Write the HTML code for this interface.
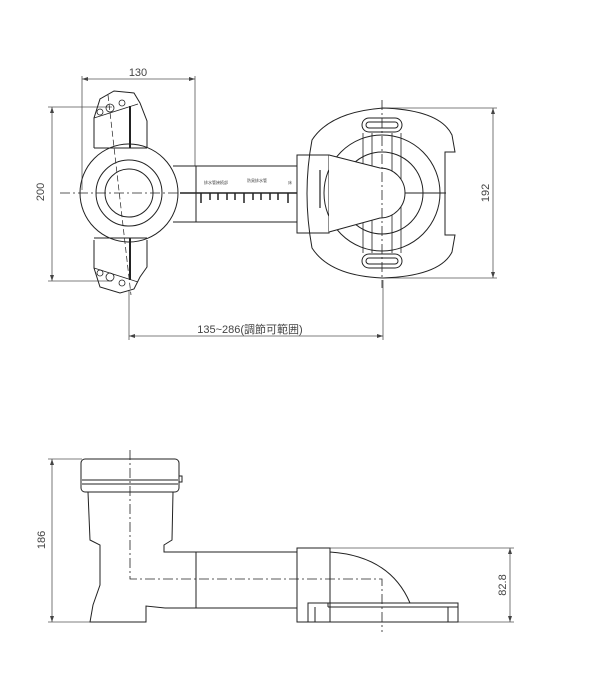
<!DOCTYPE html>
<html><head><style>body{margin:0;background:#fff}svg{display:block}text{font-family:"Liberation Sans","Noto Sans CJK JP",sans-serif;fill:#444;stroke:none}</style></head><body>
<svg width="600" height="700" viewBox="0 0 600 700" fill="none" stroke="#222" stroke-width="1">
<g stroke="#555" stroke-width="0.8">
<line x1="82" y1="79" x2="195" y2="79"/><line x1="82" y1="76" x2="82" y2="190"/><line x1="195" y1="76" x2="195" y2="166"/>
<line x1="52" y1="107" x2="52" y2="281"/><line x1="48" y1="107" x2="112" y2="107"/><line x1="48" y1="281" x2="112" y2="281"/>
<line x1="129" y1="336" x2="383" y2="336"/><line x1="129" y1="290" x2="129" y2="340"/><line x1="383" y1="280" x2="383" y2="340"/>
<line x1="383" y1="108" x2="497" y2="108"/><line x1="383" y1="278" x2="497" y2="278"/><line x1="493" y1="108" x2="493" y2="278"/>
</g>
<g fill="#444" stroke="none">
<path d="M82 79l6-2v4zM195 79l-6-2v4zM52 107l-2 6h4zM52 281l-2-6h4zM129 336l6-2v4zM383 336l-6-2v4zM493 108l-2 6h4zM493 278l-2-6h4z"/>
</g>
<text x="138" y="76" font-size="11" text-anchor="middle">130</text>
<text transform="translate(44,192) rotate(-90)" font-size="11" text-anchor="middle">200</text>
<text x="250" y="333" font-size="11" text-anchor="middle">135~286(調節可範囲)</text>
<text transform="translate(489,193) rotate(-90)" font-size="11" text-anchor="middle">192</text>
<!-- bracket -->
<path d="M94 148V118l6-19 14-8 20 2 6 10 7 18v27M94 240v28l6 19 20 6 14-4 6-12 7-10v-27"/>
<line x1="94" y1="148" x2="147" y2="148"/><line x1="94" y1="238" x2="147" y2="238"/>
<path d="M94 118l44-14M94 268l44 14" stroke-width="0.8"/>
<line x1="130" y1="106" x2="130" y2="148" stroke-width="2"/><line x1="130" y1="238" x2="130" y2="280" stroke-width="2"/>
<g stroke-width="0.8"><circle cx="110" cy="108" r="4"/><circle cx="122" cy="103" r="3"/><circle cx="100" cy="112" r="3"/><circle cx="110" cy="277" r="4"/><circle cx="122" cy="283" r="3"/><circle cx="100" cy="273" r="3"/></g>
<line x1="108" y1="95" x2="131" y2="295" stroke-dasharray="6,3" stroke-width="0.7"/>
<circle cx="129" cy="193" r="49"/><circle cx="129" cy="193" r="33"/><circle cx="129" cy="193" r="24"/>
<path d="M173 166H297M173 222H297M196 166V222"/>
<line x1="60" y1="193" x2="180" y2="193" stroke-dasharray="10,3,2,3" stroke-width="0.7"/>
<line x1="180" y1="193" x2="297" y2="193" stroke-width="1.6"/>
<g stroke-width="1.5"><path d="M201 193v10M210 193v7M218 193v7M227 193v7M235 193v7M244 193v10M253 193v7M261 193v7M270 193v7M278 193v7M288 193v10"/></g>
<g font-size="4"><text x="204" y="184">排水管接続部</text><text x="247" y="182">防臭排水管</text><text x="288" y="184">床</text></g>
<rect x="297" y="155" width="32" height="78"/>
<line x1="320" y1="170" x2="320" y2="208" stroke-width="1.2"/>
<path d="M312 140Q330 112 383 108Q440 110 452 135L455 152H445V235H455L452 252Q440 276 383 278Q330 276 312 248Q302 193 312 140Z"/>
<circle cx="382" cy="193" r="58"/><circle cx="382" cy="193" r="41"/>
<path d="M363 133V253M372 133V253M392 133V253M401 133V253" stroke-width="0.8"/>
<rect x="362" y="118" width="40" height="14" rx="7"/><rect x="366" y="122" width="32" height="6" rx="3"/>
<rect x="362" y="254" width="40" height="14" rx="7"/><rect x="366" y="258" width="32" height="6" rx="3"/>
<path d="M329 155L380 168A25 25 0 0 1 380 218L329 232" fill="#fff"/>
<line x1="405" y1="193" x2="446" y2="193"/>
<line x1="382" y1="100" x2="382" y2="288" stroke-dasharray="10,3,2,3" stroke-width="0.8"/>
<!-- SIDE VIEW -->
<g stroke="#555" stroke-width="0.8">
<line x1="52" y1="459" x2="52" y2="622"/><line x1="48" y1="459" x2="82" y2="459"/><line x1="48" y1="622" x2="90" y2="622"/>
<line x1="510" y1="548" x2="510" y2="622"/><line x1="330" y1="548" x2="514" y2="548"/><line x1="458" y1="622" x2="514" y2="622"/>
</g>
<g fill="#444" stroke="none"><path d="M52 459l-2 6h4zM52 622l-2-6h4zM510 548l-2 6h4zM510 622l-2-6h4z"/></g>
<text transform="translate(45,540) rotate(-90)" font-size="11" text-anchor="middle">186</text>
<text transform="translate(506,585) rotate(-90)" font-size="11" text-anchor="middle">82.8</text>
<rect x="81" y="459" width="98" height="33" rx="4"/>
<path d="M82 480H178M82 484H178M179 476h3v6h-3"/>
<path d="M88 492L90 540L100 545V585L93 605L90 622H146V606L165 608"/>
<path d="M173 492L172 540L164 545V552H297M165 608H297M196 552V608"/>
<rect x="297" y="548" width="33" height="74"/>
<path d="M330 552V603M330 552Q390 556 410 603"/>
<rect x="308" y="603" width="150" height="19"/>
<path d="M328 607H458M315 607V622M448 607V622M328 603v4"/>
<path d="M130 450V579H382V632" stroke-dasharray="10,3,2,3" stroke-width="0.8"/>
</svg>
</body></html>
